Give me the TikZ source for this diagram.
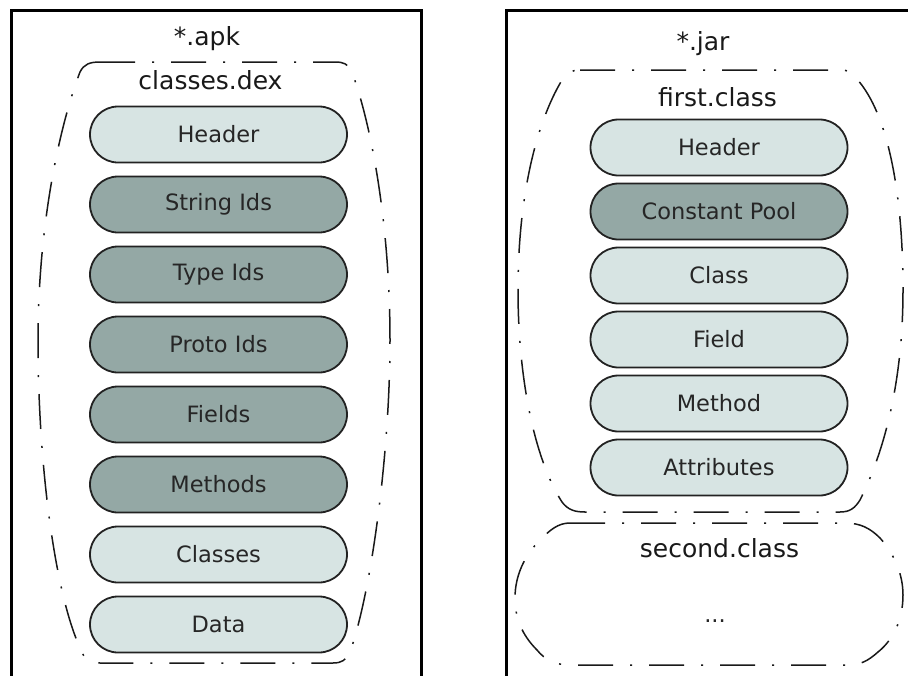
\documentclass[tikz,border=0pt]{standalone}
\usepackage{fontspec}
\setmainfont{DejaVu Sans}
\usetikzlibrary{shapes.misc}
\definecolor{seclight}{HTML}{D7E4E3}
\definecolor{secdark}{HTML}{94A8A5}
\definecolor{rim}{HTML}{222222}
\tikzset{
  section/.style={rounded rectangle, draw=rim, line width=1.8pt,
    minimum width=257pt, minimum height=56pt, inner sep=0pt,
    font=\fontsize{22.5}{27}\selectfont, text=black!85},
  plain/.style={section, fill=seclight},
  index/.style={section, fill=secdark},
  title/.style={anchor=base, inner sep=0pt, font=\fontsize{25}{30}\selectfont, text=black!90},
  archive/.style={draw=black, line width=3pt},
  container/.style={draw=black!90, line width=1.5pt,
    dash pattern=on 35pt off 17pt on 2pt off 17pt}
}
\begin{document}
\begin{tikzpicture}[x=1pt,y=-1pt]
\clip (0,0) rectangle (908,675);
\fill[white] (0,0) rectangle (908,675);

% ---------- APK archive ----------
\draw[archive] (11.5,10.5) rectangle (421.5,720);
\node[title] (apk) at (207,45) {*.apk};
\draw[container] (100,62) -- (335,62)
  .. controls (344,62) and (348,64) .. (352,72)
  .. controls (373,130) and (390,230) .. (390,340)
  .. controls (390,450) and (372,590) .. (350,652)
  .. controls (346,660) and (342,663) .. (333,663)
  -- (100,663)
  .. controls (90,663) and (85,660) .. (82,652)
  .. controls (56,600) and (38,470) .. (38,340)
  .. controls (38,230) and (58,130) .. (80,72)
  .. controls (84,64) and (90,62) .. (100,62) -- cycle;
\node[title] (dex) at (210.5,89) {classes.dex};
\node[plain] (dheader)  at (218.5,134.5) {Header};
\node[index] (dstrings) at (218.5,204.5) {String Ids};
\node[index] (dtypes)   at (218.5,274.5) {Type Ids};
\node[index] (dprotos)  at (218.5,344.5) {Proto Ids};
\node[index] (dfields)  at (218.5,414.5) {Fields};
\node[index] (dmethods) at (218.5,484.5) {Methods};
\node[plain] (dclasses) at (218.5,554.5) {Classes};
\node[plain] (ddata)    at (218.5,624.5) {Data};

% ---------- JAR archive ----------
\draw[archive] (506.5,10.5) rectangle (960,720);
\node[title] (jar) at (703,50) {*.jar};
\draw[container] (580,70) -- (840,70)
  .. controls (848,70) and (852,72) .. (856,78)
  .. controls (890,115) and (903,200) .. (903,290)
  .. controls (903,380) and (885,450) .. (860,500)
  .. controls (855,508) and (850,512) .. (840,512)
  -- (585,512)
  .. controls (575,512) and (568,510) .. (562,502)
  .. controls (535,460) and (518,380) .. (518,290)
  .. controls (518,200) and (535,125) .. (562,80)
  .. controls (566,73) and (572,70) .. (580,70) -- cycle;
\node[title] (first) at (717.5,106) {first.class};
\node[plain] (cheader) at (719,147.5) {Header};
\node[index] (cpool)   at (719,211.5) {Constant Pool};
\node[plain] (cclass)  at (719,275.5) {Class};
\node[plain] (cfield)  at (719,339.5) {Field};
\node[plain] (cmethod) at (719,403.5) {Method};
\node[plain] (cattr)   at (719,467.5) {Attributes};

\draw[container] (570,523) -- (845,523)
  .. controls (860,523) and (870,528) .. (880,538)
  .. controls (895,555) and (903,575) .. (903,595)
  .. controls (903,620) and (893,640) .. (878,652)
  .. controls (868,661) and (860,665) .. (848,665)
  -- (570,665)
  .. controls (556,665) and (545,660) .. (537,650)
  .. controls (522,635) and (515,618) .. (515,598)
  .. controls (515,575) and (525,555) .. (540,540)
  .. controls (550,530) and (558,523) .. (570,523) -- cycle;
\node[title] (second) at (719.5,557) {second.class};
\node[anchor=base, inner sep=0pt, font=\fontsize{22.5}{27}\selectfont, text=black!85] (more) at (715,622) {...};
\end{tikzpicture}
\end{document}
